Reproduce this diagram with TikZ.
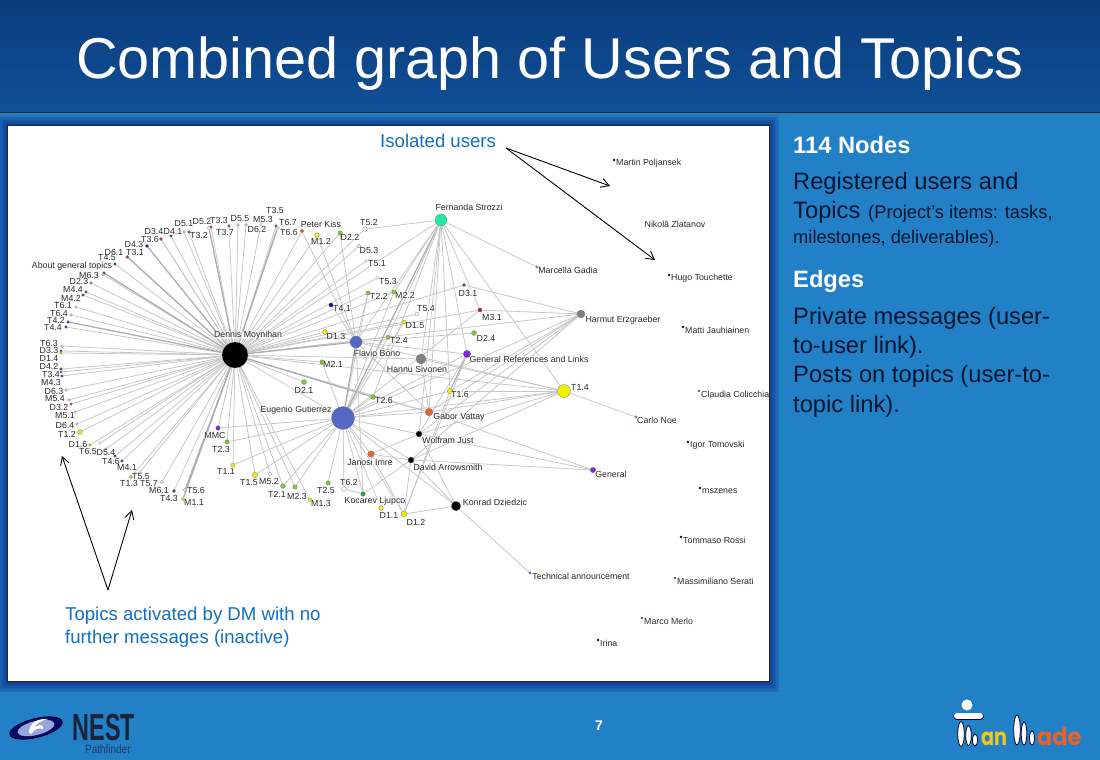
\documentclass[tikz,border=0pt]{standalone}
\usepackage{fontspec}
\usepackage{graphicx}
\setmainfont{Liberation Sans}
\newfontfamily\logofont{Poppins}
\usetikzlibrary{arrows.meta}
\pgfdeclarelayer{panel}
\pgfdeclarelayer{edges}
\pgfsetlayers{panel,edges,main}
\definecolor{slideblue}{HTML}{2280C6}
\definecolor{bartop}{HTML}{0A3C7C}
\definecolor{barbot}{HTML}{105097}
\definecolor{callout}{HTML}{1170BD}
\definecolor{bodyink}{HTML}{03152F}
\definecolor{lab}{HTML}{2A2A2A}
\definecolor{edgec}{HTML}{C6C6C6}
\definecolor{edgeh}{HTML}{ADADAD}
\definecolor{navy}{HTML}{0A0A90}
\definecolor{dred}{HTML}{C0202A}
\definecolor{lime}{HTML}{7FC832}
\definecolor{yel}{HTML}{F2F000}
\definecolor{grn}{HTML}{2FA040}
\definecolor{purp}{HTML}{7A28D8}
\definecolor{orng}{HTML}{E8622A}
\definecolor{teal}{HTML}{30C8A0}
\definecolor{blu}{HTML}{5468C4}
\definecolor{mint}{HTML}{20E8A8}
\definecolor{logoink}{HTML}{1C2238}
\definecolor{logoblue}{HTML}{24386A}
\definecolor{logoyel}{HTML}{F5C518}
\tikzset{
  x=1pt,y=-1pt,
  dot/.style={circle,inner sep=0pt,draw=black!55,line width=.25pt},
  glabel/.style={font=\fontsize{8.8}{10}\selectfont,text=lab,inner sep=0pt,fill=white,fill opacity=.55,text opacity=1},
  edge/.style={draw=edgec,line width=.75pt},
  heavy/.style={draw=edgeh,line width=1.15pt},
  pointer/.style={draw=black,line width=.9pt,-{Straight Barb[length=8pt,width=9pt,line width=.9pt]}},
  sidetext/.style={anchor=base west,text=bodyink,inner sep=0pt,font=\fontsize{23.7}{27}\selectfont},
  sidesmall/.style={anchor=base west,text=bodyink,inner sep=0pt,font=\fontsize{18.3}{22}\selectfont},
  sidebold/.style={anchor=base west,text=white,inner sep=0pt,font=\fontsize{23.7}{27}\selectfont\bfseries},
  calltext/.style={text=callout,inner sep=0pt,anchor=base west,font=\fontsize{18.6}{22}\selectfont},
  manpart/.style={fill=white,draw=black!80!blue,line width=.8pt},
}
\newcommand{\gn}[8]{%
  \node[dot,minimum size=#4pt,fill=#5] (#1) at (#2,#3) {};
  \node[glabel] (#1lab) at (#7,#8) {#6};
}
\newcommand{\iso}[5]{%
  \node[dot,draw=none,minimum size=2.6pt,fill=#4] (#1) at (#2,#3) {};
  \node[glabel,anchor=west] (#1lab) at (#2+2,#3+3) {#5};
}
\begin{document}
\begin{tikzpicture}
\useasboundingbox (0,0) rectangle (1100,760);
\begin{pgfonlayer}{panel}
  \fill[slideblue] (0,0) rectangle (1100,760);
  \foreach \d in {10,8.5,7,5.5,4,2.5,1}{
    \fill[black!60!blue,opacity=.09] (7-\d,125-\d) rectangle (769+\d,681+\d+1);
  }
  \shade[top color=bartop,bottom color=barbot] (0,0) rectangle (1100,112);
  \draw[black!85,line width=1pt] (0,112) -- (1100,112);
  \fill[white] (7,125) rectangle (769,681);
  \draw[black!85,line width=.9pt] (7,125) rectangle (769,681);
\end{pgfonlayer}

\node[text=white,inner sep=0pt,anchor=base,font=\fontsize{57.6}{60}\selectfont] (title) at (550,78) {Combined graph of Users and Topics};

% --- hubs
\gn{DM}{235}{355}{26}{black}{Dennis Moynihan}{248}{335}
\gn{EG}{343}{418}{23}{blu}{Eugenio Gutierrez}{296}{410}
\gn{FB}{356}{342}{12}{blu}{Flavio Bono}{377}{353}
\gn{FS}{441}{220}{12}{mint}{Fernanda Strozzi}{469}{207}
\gn{HS}{421}{359}{10}{black!50}{Hannu Sivonen}{417}{369}
\gn{HE}{581}{314}{8}{black!50}{Harmut Erzgraeber}{623}{320}
\gn{T14}{564}{391}{13}{yel}{T1.4}{580}{387}
\gn{GR}{467}{354}{7.5}{purp}{General References and Links}{529}{359}
\gn{GV}{429}{412}{7.5}{orng}{Gabor Vattay}{459}{417}
\gn{WJ}{419}{434}{6}{black}{Wolfram Just}{448}{440}
\gn{DA}{411}{460}{6}{black}{David Arrowsmith}{448}{467}
\gn{KD}{456}{506}{9.5}{black}{Konrad Dziedzic}{495}{502}
\gn{JI}{371}{454}{6.5}{orng}{Janosi Imre}{370}{462}
\gn{KL}{363}{494}{4.5}{grn}{Kocarev Ljupco}{375}{501}
\gn{GE}{593}{470}{5.5}{purp}{General}{611}{474}
\gn{TA}{530}{573}{2.6}{purp}{Technical announcement}{581}{576}
\gn{MG}{537}{267}{2.8}{teal}{Marcella Gadia}{568}{270}
\gn{CN}{636}{417}{2.8}{teal}{Carlo Noe}{657}{420}
% --- inner topics
\gn{PK}{302}{231}{3.8}{orng}{Peter Kiss}{321}{224}
\gn{M12}{317}{235}{4.5}{yel}{M1.2}{321}{241}
\gn{D22}{340}{233}{4.5}{lime}{D2.2}{350}{237}
\gn{T52}{365}{229}{4.5}{white}{T5.2}{369}{222}
\gn{D53}{359}{246}{3.2}{white}{D5.3}{369}{250}
\gn{T51}{366}{261}{3}{white}{T5.1}{377}{264}
\gn{T53}{377}{278}{3}{white}{T5.3}{388}{281}
\gn{T22}{368}{293}{4.2}{lime}{T2.2}{379}{296}
\gn{M22}{394}{292}{4.2}{lime}{M2.2}{405}{295}
\gn{T41}{331}{305}{4.2}{navy}{T4.1}{342}{308}
\gn{D13}{325}{332}{4.8}{yel}{D1.3}{336}{336}
\gn{T54}{417}{314}{4}{white}{T5.4}{426}{309}
\gn{D15}{404}{322}{4}{yel}{D1.5}{415}{326}
\gn{T24}{388}{337}{4}{lime}{T2.4}{399}{340}
\gn{D31}{464}{285}{3.2}{dred}{D3.1}{468}{293}
\gn{M31}{480}{310}{4.2}{dred}{M3.1}{492}{317}
\gn{D24}{474}{333}{5}{lime}{D2.4}{486}{338}
\gn{T16}{450}{391}{5.5}{yel}{T1.6}{460}{394}
\gn{T26}{373}{397}{5}{lime}{T2.6}{384}{400}
\gn{M21}{322}{362}{4.5}{lime}{M2.1}{333}{364}
\gn{D21}{304}{382}{5}{lime}{D2.1}{304}{390}
% --- lower arc
\gn{MMC}{218}{428}{4.5}{purp}{MMC}{215}{435}
\gn{T23}{227}{442}{4.5}{lime}{T2.3}{221}{449}
\gn{T11}{233}{465}{4}{yel}{T1.1}{226}{471}
\gn{T15}{255}{475}{5.5}{yel}{T1.5}{249}{483}
\gn{M52}{270}{474}{3.5}{white}{M5.2}{269}{481}
\gn{T21}{283}{486}{4.8}{lime}{T2.1}{277}{494}
\gn{M23}{295}{487}{4.5}{lime}{M2.3}{297}{496}
\gn{M13}{310}{500}{4}{yel}{M1.3}{321}{503}
\gn{T25}{328}{483}{4.5}{lime}{T2.5}{326}{490}
\gn{T62}{344}{489}{5}{white}{T6.2}{349}{482}
\gn{D11}{381}{508}{4.5}{yel}{D1.1}{389}{515}
\gn{D12}{404}{514}{6}{yel}{D1.2}{416}{522}
% --- upper and left arc
\gn{T44}{66}{327}{2.8}{navy}{T4.4}{53}{327}
\gn{T42}{68}{322}{2.8}{navy}{T4.2}{56}{320}
\gn{T64}{71}{315}{2.8}{white}{T6.4}{59}{313}
\gn{T61}{76}{307}{2.8}{white}{T6.1}{63}{305}
\gn{M42}{83}{295}{2.8}{navy}{M4.2}{71}{298}
\gn{M44}{86}{292}{2.8}{navy}{M4.4}{73}{289}
\gn{D23}{91}{283}{2.8}{lime}{D2.3}{79}{281}
\gn{M63}{104}{273}{2.8}{navy}{M6.3}{89}{275}
\gn{AGT}{103}{274.5}{2.8}{white}{About general topics}{72}{266}
\gn{T45}{115}{264}{2.8}{navy}{T4.5}{107}{258}
\gn{D61}{127}{257}{2.8}{white}{D6.1}{114}{252}
\gn{T31}{127.5}{257}{2.8}{dred}{T3.1}{135}{252}
\gn{D43}{147}{246}{3.2}{navy}{D4.3}{134}{244}
\gn{D34}{161}{239}{2.8}{dred}{D3.4}{154}{231}
\gn{T36}{161}{239}{2.8}{dred}{T3.6}{150}{239}
\gn{D41}{171}{236}{2.8}{navy}{D4.1}{173}{231}
\gn{D51}{184}{232}{2.8}{white}{D5.1}{184}{224}
\gn{T32}{189}{232}{2.8}{dred}{T3.2}{199}{235}
\gn{D52}{209}{228}{3.5}{white}{D5.2}{202}{221}
\gn{T33}{211}{227}{2.8}{dred}{T3.3}{219}{220}
\gn{T37}{229}{226}{2.8}{dred}{T3.7}{225}{232}
\gn{D55}{238}{225}{2.8}{white}{D5.5}{240}{219}
\gn{D62}{246}{225}{2.8}{white}{D6.2}{257}{229}
\gn{M53}{261}{224}{3}{white}{M5.3}{263}{219}
\gn{T35}{276}{226}{2.8}{dred}{T3.5}{275}{210}
\gn{T67}{278}{228}{3}{white}{T6.7}{288}{222}
\gn{T66}{277}{229}{3}{white}{T6.6}{289}{232}
\gn{T63}{62}{346}{2.8}{white}{T6.3}{49}{343}
\gn{D33}{61}{351}{2.8}{dred}{D3.3}{49}{350}
\gn{D14}{61}{353}{2.8}{yel}{D1.4}{49}{358}
\gn{D42}{61}{369}{2.8}{navy}{D4.2}{49}{366}
\gn{T34}{61}{372}{2.6}{dred}{T3.4}{51}{374}
\gn{M43}{62}{376}{2.6}{navy}{M4.3}{51}{382}
\gn{D63}{66}{390}{2.8}{white}{D6.3}{54}{391}
\gn{M54}{69}{400}{2.8}{white}{M5.4}{55}{399}
\gn{D32}{71}{404}{2.6}{dred}{D3.2}{59}{407}
\gn{M51}{75}{412}{2.8}{white}{M5.1}{65}{416}
\gn{D64}{77}{424}{2.8}{white}{D6.4}{65}{425}
\gn{T12}{80}{432}{4.8}{yel}{T1.2}{67}{434}
\gn{D16}{90}{445}{2.8}{yel}{D1.6}{78}{444}
\gn{T65}{100}{443}{3}{white}{T6.5}{88}{451}
\gn{D54}{106}{449}{2.8}{white}{D5.4}{106}{453}
\gn{T46}{115}{456}{2.8}{navy}{T4.6}{111}{461}
\gn{M41}{122}{461}{2.8}{navy}{M4.1}{127}{467}
\gn{T55}{140}{472}{3}{white}{T5.5}{141}{477}
\gn{T13}{131}{477}{3.2}{yel}{T1.3}{129}{483}
\gn{T57}{162}{482}{3.2}{white}{T5.7}{149}{484}
\gn{M61}{174}{491}{2.8}{navy}{M6.1}{159}{490}
\gn{T43}{174}{491}{2.8}{navy}{T4.3}{169}{498}
\gn{T56}{185}{490}{3.2}{white}{T5.6}{196}{490}
\gn{M11}{183}{499}{3.5}{yel}{M1.1}{194}{502}
% --- isolated users
\iso{U1}{614}{160}{teal!10!black}{Martin Poljansek}
\node[glabel] (U2) at (675,224) {Nikolâ Zlatanov};
\iso{U3}{669}{275}{teal!10!black}{Hugo Touchette}
\iso{U4}{683}{327}{teal!10!black}{Matti Jauhiainen}
\iso{U5}{699}{391}{teal!60!black}{Claudia Colicchia}
\iso{U6}{688}{442}{teal!10!black}{Igor Tomovski}
\iso{U7}{700}{488}{teal!10!black}{mszenes}
\iso{U8}{681}{537}{teal!10!black}{Tommaso Rossi}
\iso{U9}{675}{578}{teal!60!black}{Massimiliano Serati}
\iso{U10}{642}{618}{teal!60!black}{Marco Merlo}
\iso{U11}{598}{640}{teal!10!black}{Irina}

\begin{pgfonlayer}{edges}
  % Dennis to the arc
  \foreach \n in {T44,T42,T64,T61,M42,M44,D23,M63,AGT,T45,D61,T31,D43,D34,T36,D41,D51,T32,D52,T33,T37,D55,D62,M53,T35,T67,T66,PK,M12,D22,T52,D53,T51,T53,T22,M22,D13,T54,D15,T24,D31,M31,T26,M21,D21,T63,D33,D14,D42,T34,M43,D63,M54,D32,M51,D64,T12,D16,T65,D54,T46,M41,T55,T13,T57,M61,T56,M11,MMC,T23,T11,T15,M52,T21,M23,M13,HE,HS,T14,GV,FS,EG}
    \draw[edge] (DM) -- (\n);
  \foreach \n in {D43,T31,T66,T56,M11,M63,T42,D52,T26,FB}
    \draw[heavy] (DM) -- (\n);
  % Eugenio
  \foreach \n in {MMC,T23,T11,T15,T21,M23,T25,T62,KL,JI,D11,D12,WJ,DA,KD,GV,T14,T16,T26,GR,HE,M21,T22,M22,T24,D15,M31,FS}
    \draw[edge] (EG) -- (\n);
  \draw[heavy] (EG) -- (FB);
  \draw[heavy] (EG) -- (FS);
  % Flavio
  \foreach \n in {D22,M12,PK,T41,D13,T22,D24,GR,T14,GV,KL,FS}
    \draw[edge] (FB) -- (\n);
  % Fernanda
  \foreach \n in {T52,MG,T14,HS,GR,M31,T16,M22,T24,T26,GV,WJ}
    \draw[edge] (FS) -- (\n);
  % Harmut
  \foreach \n in {D31,M31,T16,GV,WJ,DA}
    \draw[edge] (HE) -- (\n);
  % T1.4
  \foreach \n in {T16,GV,WJ,DA,CN,HS}
    \draw[edge] (T14) -- (\n);
  % remaining
  \draw[edge] (GE) -- (GV);
  \draw[edge] (GE) -- (WJ);
  \draw[edge] (GE) -- (DA);
  \draw[heavy] (GR) -- (T16);
  \draw[edge] (GR) -- (WJ);
  \draw[edge] (GR) -- (D12);
  \draw[edge] (T16) -- (D12);
  \draw[edge] (T26) -- (GV);
  \draw[edge] (HS) -- (GV);
  \draw[edge] (WJ) -- (JI);
  \draw[edge] (WJ) -- (KD);
  \draw[edge] (DA) -- (JI);
  \draw[edge] (DA) -- (KD);
  \draw[edge] (DA) -- (KL);
  \draw[edge] (DA) -- (D12);
  \draw[edge] (JI) -- (D12);
  \draw[edge] (T62) -- (KL);
  \draw[edge] (D12) -- (KD);
  \draw[edge] (KD) -- (TA);
\end{pgfonlayer}

% --- callouts
\node[calltext] (iso) at (380,147) {Isolated users};
\coordinate (isoend) at (506,148);
\draw[pointer] (isoend) -- (610,186);
\draw[pointer] (isoend) -- (655,260);
\node[calltext] (topA) at (65,620) {Topics activated by DM with no};
\node[calltext] (topB) at (65,643) {further messages (inactive)};
\coordinate (topend) at (108,590);
\draw[pointer] (topend) -- (62,456);
\draw[pointer] (topend) -- (132,510);

% --- side text
\node[sidebold] (n1) at (793,153) {114 Nodes};
\node[sidetext] (n2) at (793,189) {Registered users and};
\node[sidetext] (n3) at (793,218) {Topics};
\node[sidesmall] (n3b) at (868,218) {(Project’s items: tasks,};
\node[sidesmall] (n4) at (793,243) {milestones, deliverables).};
\node[sidebold] (n5) at (793,287) {Edges};
\node[sidetext] (n6) at (793,324) {Private messages (user-};
\node[sidetext] (n7) at (793,353) {to-user link).};
\node[sidetext] (n8) at (793,382) {Posts on topics (user-to-};
\node[sidetext] (n9) at (793,412) {topic link).};

\node[text=white,inner sep=0pt,font=\fontsize{14}{16}\selectfont\bfseries] (pg) at (599,726) {7};

% --- NEST logo
\begin{scope}[rotate around={14:(36,728)}]
  \fill[navy!75!black,draw=black,line width=.6pt] (36,728) ellipse [x radius=27,y radius=9.5];
  \fill[blu!60!white] (36,728) ellipse [x radius=19,y radius=7];
\end{scope}
\fill[white] (29,732) .. controls (29,722) and (40,718) .. (48,719) .. controls (40,721) and (36,724) .. (35,727) .. controls (40,723) and (45,726) .. (43,729) .. controls (38,727) and (34,730) .. (31,734) -- cycle;
\node[inner sep=0pt,text=logoink,anchor=base west,font=\fontsize{37.7}{40}\selectfont\bfseries] (nest) at (72.5,740) {\scalebox{.62}[1]{NEST}};
\node[inner sep=0pt,text=logoblue,anchor=base west,font=\fontsize{12}{13}\selectfont] (path) at (85,753) {\scalebox{.83}[1]{Pathfinder}};

% --- Man Made logo
\fill[manpart,draw=none] (967,705) circle (5.5);
\draw[line width=7.5pt,draw=black!80!blue,line cap=round] (957,716.5) -- (980,716.5);
\draw[line width=6pt,draw=white,line cap=round] (957,715.5) -- (980,715.5);
\draw[manpart] (961,734) ellipse [x radius=3.3,y radius=12.5];
\draw[manpart] (968.5,735.5) ellipse [x radius=2.8,y radius=10];
\draw[manpart] (975,740) ellipse [x radius=2.5,y radius=6];
\node[inner sep=0pt,anchor=base west,text=logoyel,font=\fontsize{24}{26}\logofont\bfseries] (an) at (981,745) {\scalebox{.8}[1]{an}};
\draw[manpart] (1017,730) ellipse [x radius=3.3,y radius=15];
\draw[manpart] (1024,733.5) ellipse [x radius=2.8,y radius=11.5];
\draw[manpart] (1032,738) ellipse [x radius=2.5,y radius=7];
\node[inner sep=0pt,anchor=base west,text=orng,font=\fontsize{24}{26}\logofont\bfseries] (ade) at (1037,745) {\scalebox{.93}[1]{ade}};
\end{tikzpicture}
\end{document}
